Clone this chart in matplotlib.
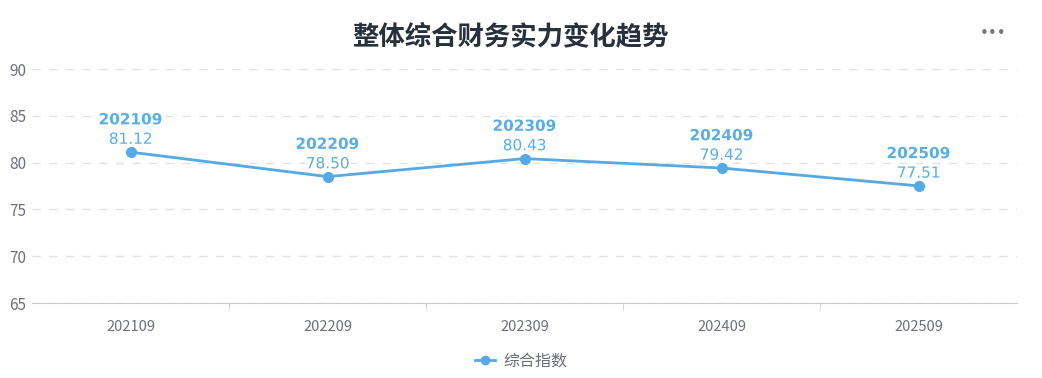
import matplotlib.pyplot as plt
from matplotlib.lines import Line2D
import matplotlib.patheffects as pe

plt.rcParams['font.family'] = ['Noto Sans CJK SC', 'DejaVu Sans']

# data
periods = ['202109', '202209', '202309', '202409', '202509']
scores = [81.12, 78.50, 80.43, 79.42, 77.51]
y_ticks = [65, 70, 75, 80, 85, 90]

line_color = '#56a9e2'
label_color = '#5aaee3'

fig = plt.figure(figsize=(10.42, 3.78), dpi=100)
ax = fig.add_axes([32 / 1042, 1 - 303 / 378, 985 / 1042, 234 / 378])

x = list(range(len(periods)))
ax.plot(x, scores, color=line_color, lw=2, marker='o', ms=7, zorder=3)

for xi, p, v in zip(x, periods, scores):
    halo = [pe.withStroke(linewidth=3, foreground='white')]
    ax.annotate(p, (xi, v), xytext=(0, 20), textcoords='offset points',
                ha='center', va='baseline', fontsize=11, fontweight='bold',
                color=label_color, family='DejaVu Sans', path_effects=halo)
    ax.annotate(f'{v:.2f}', (xi, v), xytext=(0, 6), textcoords='offset points',
                ha='center', va='baseline', fontsize=11,
                color=label_color, family='DejaVu Sans', path_effects=halo)

ax.set_xlim(-0.5, len(periods) - 0.5)
ax.set_ylim(65, 90)
ax.set_yticks(y_ticks)
ax.set_xticks(x)
ax.set_xticklabels(periods)
ax.set_xticks([i + 0.5 for i in x[:-1]], minor=True)

ax.grid(axis='y', color='#e0e3e8', linestyle=(0, (6, 6)), lw=1)
ax.set_axisbelow(True)
for s in ['top', 'right', 'left']:
    ax.spines[s].set_visible(False)
ax.spines['bottom'].set_color('#c9ccd3')
ax.tick_params(axis='y', length=0, labelsize=11, colors='#6e7079', pad=4)
ax.tick_params(axis='x', which='major', length=0, labelsize=10.5, colors='#6e7079', pad=12)
ax.tick_params(axis='x', which='minor', length=5, color='#c9ccd3', direction='out')

fig.text(0.49, 1 - 37 / 378, '整体综合财务实力变化趋势', ha='center', va='center',
         fontsize=19, fontweight='bold', color='#27313b')
fig.text(993 / 1042, 1 - 33 / 378, '•••', ha='center', va='center',
         fontsize=11, color='#777777', family='DejaVu Sans')

handle = Line2D([], [], color=line_color, lw=2, marker='o', ms=6)
fig.legend([handle], ['综合指数'], loc='center', bbox_to_anchor=(0.5, 1 - 361 / 378),
           frameon=False, fontsize=11.5, handlelength=1.3, handletextpad=0.5,
           labelcolor='#6e7079')

fig.savefig('out.png', dpi=100)
